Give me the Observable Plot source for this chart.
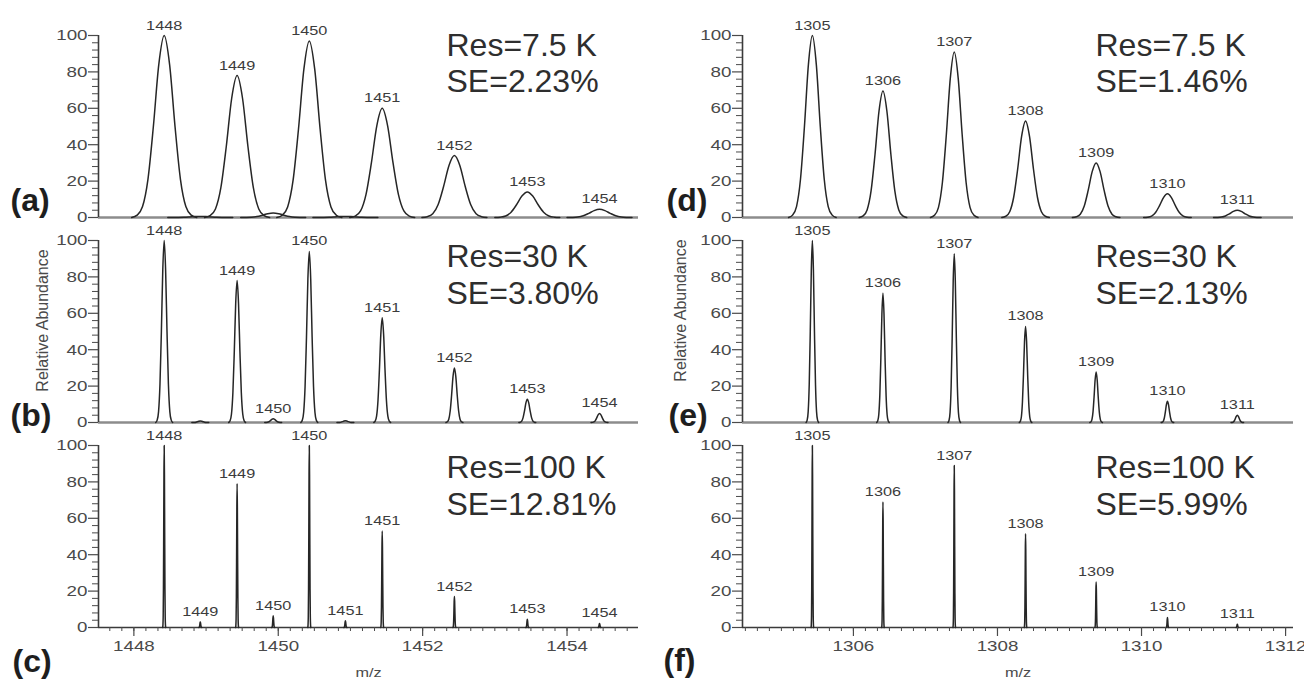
<!DOCTYPE html>
<html><head><meta charset="utf-8">
<script src="https://cdn.jsdelivr.net/npm/d3@7"></script>
<script src="https://cdn.jsdelivr.net/npm/@observablehq/plot@0.6"></script>
<style>
body{margin:0;background:#fff;}
#chart{position:relative;width:1304px;height:680px;overflow:hidden;font-family:"Liberation Sans",Arial,sans-serif;background:#fff;}
#chart svg{position:absolute;overflow:visible;background:transparent;}
</style></head><body><div id="chart"></div>
<script>
// ---------------- data ----------------
const leftCenters  = [1448.42, 1449.43, 1450.43, 1451.44, 1452.44, 1453.45, 1454.45];
const leftLabels   = ["1448", "1449", "1450", "1451", "1452", "1453", "1454"];
const leftSatCenters = [1448.92, 1449.93, 1450.93];
const rightCenters = [1305.43, 1306.41, 1307.40, 1308.39, 1309.37, 1310.36, 1311.33];
const rightLabels  = ["1305", "1306", "1307", "1308", "1309", "1310", "1311"];

const heightsA = [100, 78, 97, 60, 34, 14, 4.5];
const heightsB = [100, 78, 94, 57.5, 30, 12.8, 5];
const heightsC = [100, 79, 100, 53, 17, 4.6, 2.2];
const heightsD = [100, 69.5, 91, 53, 30, 13, 4];
const heightsE = [100, 71, 92.7, 52.8, 27.8, 11.7, 4];
const heightsF = [100, 69, 89, 51.5, 25, 5.5, 1.8];

const satHeightsA = [0.6, 2.5, 0.6];
const satHeightsB = [0.8, 2, 1];
const satHeightsC = [3, 6.4, 3.7];
const satLabelsA = ["", "", ""];
const satLabelsB = ["", "1450", ""];
const satLabelsC = ["1449", "1450", "1451"];

const resolutions = ["Res=7.5 K", "Res=30 K", "Res=100 K"];
const errorsLeft  = ["SE=2.23%", "SE=3.80%", "SE=12.81%"];
const errorsRight = ["SE=1.46%", "SE=2.13%", "SE=5.99%"];
const panelLetters = ["(a)", "(b)", "(c)", "(d)", "(e)", "(f)"];

// peak full width at half maximum (m/z) per resolution row
const fwhmLeft  = [0.30, 0.078, 0.014];
const fwhmRight = [0.22, 0.058, 0.012];
// peak profile shape (offset in FWHM units, relative height)
const shapeOffsets = [-1.5, -1.25, -1, -0.75, -0.5, -0.25, 0, 0.25, 0.5, 0.75, 1, 1.25, 1.5];
const shapeValues  = [0, 0.013, 0.06, 0.21, 0.5, 0.84, 1, 0.84, 0.5, 0.21, 0.06, 0.013, 0];

const yTicks = [0, 20, 40, 60, 80, 100];
const xTicksLeft  = [1448, 1450, 1452, 1454];
const xTicksRight = [1306, 1308, 1310, 1312];
const xDomainLeft  = [1447.51, 1454.99];
const xDomainRight = [1304.46, 1312.11];
const yLabel = "Relative Abundance";
const xLabel = "m/z";

// ---------------- layout ----------------
const cols = [
  {left: 0,   width: 660, ml: 98,  mr: 22, domain: xDomainLeft,  ticks: xTicksLeft,  centers: leftCenters,  labels: leftLabels,  fwhm: fwhmLeft,  errors: errorsLeft,  textX: 446},
  {left: 640, width: 664, ml: 102, mr: 11, domain: xDomainRight, ticks: xTicksRight, centers: rightCenters, labels: rightLabels, fwhm: fwhmRight, errors: errorsRight, textX: 1095}
];
const rows = [
  {top: 0,   y100: 35,  mb: 15, resY: 45,  seY: 81},
  {top: 205, y100: 240, mb: 15, resY: 256, seY: 293},
  {top: 410, y100: 445, mb: 53, resY: 467, seY: 504}
];
const letterPos = [
  [10, 200], [10, 415], [12, 661],
  [666, 200], [668, 415], [663, 660]
];
const heights = [[heightsA, heightsB, heightsC], [heightsD, heightsE, heightsF]];
const satHeights = [satHeightsA, satHeightsB, satHeightsC];
const satLabels = [satLabelsA, satLabelsB, satLabelsC];

function profile(centers, hs, fwhm, idBase) {
  const pts = [];
  centers.forEach((c, i) => {
    shapeOffsets.forEach((o, j) => pts.push({mz: c + o * fwhm, ab: hs[i] * shapeValues[j], id: idBase + i}));
  });
  return pts;
}

const minorY = d3.range(0, 101, 4).filter(v => v % 20 !== 0);
const container = document.getElementById("chart");

cols.forEach((col, ci) => {
  const minorX = d3.range(col.ticks[0] - 12 / 6, col.domain[1], 1 / 6).filter(v => v >= col.domain[0]);
  rows.forEach((row, ri) => {
    const bottom = ri === 2;
    const hs = heights[ci][ri];
    let prof = profile(col.centers, hs, col.fwhm[ri], 0);
    let peakLabels = col.centers.map((c, i) => ({mz: c, ab: hs[i], t: col.labels[i]}));
    if (ci === 0) {
      prof = prof.concat(profile(leftSatCenters, satHeights[ri], col.fwhm[ri], 100));
      leftSatCenters.forEach((c, i) => {
        if (satLabels[ri][i]) peakLabels.push({mz: c, ab: satHeights[ri][i], t: satLabels[ri][i]});
      });
    }
    const plotTop = row.top + 35;
    const innerH = 182;
    const H = 35 + innerH + row.mb;
    const idx = ci * 3 + ri;
    const [lx, ly] = letterPos[idx];
    const marks = [
      Plot.ruleY([0], {stroke: bottom ? "#3a3a3a" : "#8c8c8c", strokeWidth: bottom ? 1.6 : 2.6}),
      Plot.line(prof, {x: "mz", y: "ab", z: "id", stroke: "#262626", strokeWidth: 1.5, curve: "monotone-x"}),
      Plot.text(peakLabels, {x: "mz", y: "ab", text: "t", dy: -6, lineAnchor: "bottom", fontSize: 13, fill: "#3c3c3c"}),
      Plot.ruleX([col.domain[0]], {y1: 0, y2: 100, stroke: "#3a3a3a", strokeWidth: 1.6}),
      Plot.axisY({ticks: yTicks, tickSize: 10, tickPadding: 1, fontSize: 15, color: "#4a4a4a", strokeWidth: 1.2, label: null, tickFormat: d => String(d)}),
      Plot.axisY({ticks: minorY, tickSize: 6, color: "#4a4a4a", strokeWidth: 1, label: null, tickFormat: () => ""}),
      Plot.text([resolutions[ri]], {frameAnchor: "top-left", dx: col.textX - col.left - col.ml, dy: row.resY - plotTop, textAnchor: "start", lineAnchor: "middle", fontSize: 32, fill: "#2e2e2e"}),
      Plot.text([col.errors[ri]], {frameAnchor: "top-left", dx: col.textX - col.left - col.ml, dy: row.seY - plotTop, textAnchor: "start", lineAnchor: "middle", fontSize: 32, fill: "#2e2e2e"}),
      Plot.text([panelLetters[idx]], {frameAnchor: "top-left", dx: lx - col.left - col.ml, dy: ly - plotTop, textAnchor: "start", lineAnchor: "middle", fontSize: 32, fontWeight: "bold", fill: "#1e1e1e"})
    ];
    if (ri === 1) {
      marks.push(Plot.text([yLabel], {frameAnchor: "left", dx: ci === 0 ? -56 : -62, dy: ci === 0 ? -11 : -21, rotate: -90, textAnchor: "middle", lineAnchor: "middle", fontSize: 16, fill: "#4a4a4a"}));
    }
    if (bottom) {
      marks.push(
        Plot.axisX({ticks: col.ticks, tickSize: 9, tickPadding: 4, fontSize: 15, color: "#4a4a4a", strokeWidth: 1.2, label: null, tickFormat: d => String(d)}),
        Plot.axisX({ticks: minorX, tickSize: 4, color: "#4a4a4a", strokeWidth: 1, label: null, tickFormat: () => ""}),
        Plot.text([xLabel], {frameAnchor: "bottom", dy: 45, textAnchor: "middle", lineAnchor: "middle", fontSize: 13, fill: "#4a4a4a"})
      );
    }
    const svg = Plot.plot({
      width: col.width,
      height: H,
      marginLeft: col.ml,
      marginRight: col.mr,
      marginTop: 35,
      marginBottom: row.mb,
      x: {domain: col.domain, axis: bottom ? undefined : null},
      y: {domain: [0, 100]},
      style: {fontFamily: "'Liberation Sans', Arial, sans-serif", background: "transparent", overflow: "visible"},
      marks
    });
    svg.style.left = col.left + "px";
    svg.style.top = row.top + "px";
    container.appendChild(svg);
  });
});

// the spectra were widened in the source figure: widen their small texts the same way
container.querySelectorAll("svg text").forEach(t => {
  const fs = parseFloat(getComputedStyle(t).fontSize);
  const tr = t.getAttribute("transform") || "";
  if (fs <= 16 && !tr.includes("rotate") && t.textContent.trim()) {
    const w = t.getComputedTextLength();
    t.setAttribute("textLength", (w * 1.25).toFixed(1));
    t.setAttribute("lengthAdjust", "spacingAndGlyphs");
  }
});
</script></body></html>
